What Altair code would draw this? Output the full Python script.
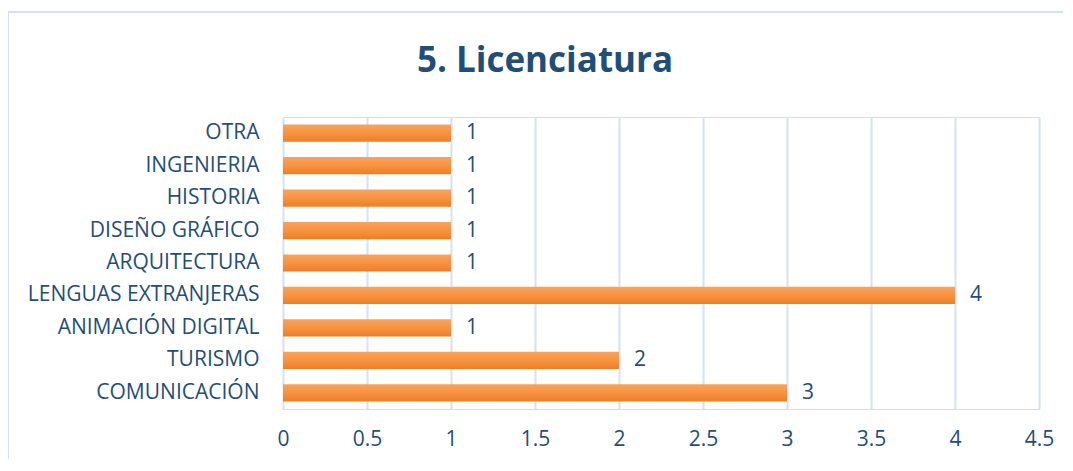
import altair as alt
import pandas as pd

categories = ["OTRA", "INGENIERIA", "HISTORIA ", "DISEÑO GRÁFICO", "ARQUITECTURA",
              "LENGUAS EXTRANJERAS", "ANIMACIÓN DIGITAL", "TURISMO", "COMUNICACIÓN"]
values = [1, 1, 1, 1, 1, 4, 1, 2, 3]
x_ticks = [0, 0.5, 1, 1.5, 2, 2.5, 3, 3.5, 4, 4.5]
title_text = "5. Licenciatura"

df = pd.DataFrame({"cat": categories, "val": values})

TEXT = "#1F4E79"
GRID = "#D6E1F1"
FONT = "Open Sans"

W, H = 756, 292
PL, PT, PR, PB = 275, 109, 24, 50

y_enc = alt.Y("cat:N", sort=categories, title=None,
              scale=alt.Scale(paddingInner=0.47, paddingOuter=0.235),
              axis=alt.Axis(labelFontSize=21, labelColor=TEXT, labelFont=FONT,
                            labelPadding=24, ticks=False, domain=False, labelLimit=400))
x_enc = alt.X("val:Q", title=None,
              scale=alt.Scale(domain=[0, 4.5], nice=False),
              axis=alt.Axis(values=x_ticks, format="~g", labelFontSize=21, labelColor=TEXT,
                            labelFont=FONT, labelPadding=19, ticks=False,
                            domain=False, grid=True, gridColor=GRID, gridWidth=2,
                            labelFlush=False))

bars = alt.Chart(df).mark_bar(
    color=alt.Gradient(gradient="linear",
                       stops=[alt.GradientStop(color="#F9A35E", offset=0),
                              alt.GradientStop(color="#F7933F", offset=0.5),
                              alt.GradientStop(color="#EC7F27", offset=1)],
                       x1=0, x2=0, y1=0, y2=1)
).encode(x=x_enc, y=y_enc)

labels = alt.Chart(df).mark_text(
    align="left", baseline="middle", dx=15, fontSize=21, color=TEXT, font=FONT
).encode(x="val:Q", y=alt.Y("cat:N", sort=categories), text="val:Q")

border = alt.Chart(df).mark_rect(
    fill=None, stroke="#D6E1F1", strokeWidth=2
).encode(x=alt.value(-PL), x2=alt.value(W + PR + 20), y=alt.value(-105), y2=alt.value(H + PB + 20))

title = alt.Chart(pd.DataFrame({"t": [title_text]})).mark_text(
    align="center", baseline="alphabetic", fontSize=35, font=FONT, fontWeight="bold",
    color=TEXT
).encode(x=alt.value(262), y=alt.value(-45), text="t:N")

chart = alt.layer(border, bars, labels, title).properties(
    width=W, height=H,
    autosize=alt.AutoSizeParams(type="none"),
    padding={"left": PL, "top": PT, "right": PR, "bottom": PB},
).configure_view(stroke=None).configure(background="white")

chart.save("out.html", embed_options={"renderer": "svg", "actions": False})
